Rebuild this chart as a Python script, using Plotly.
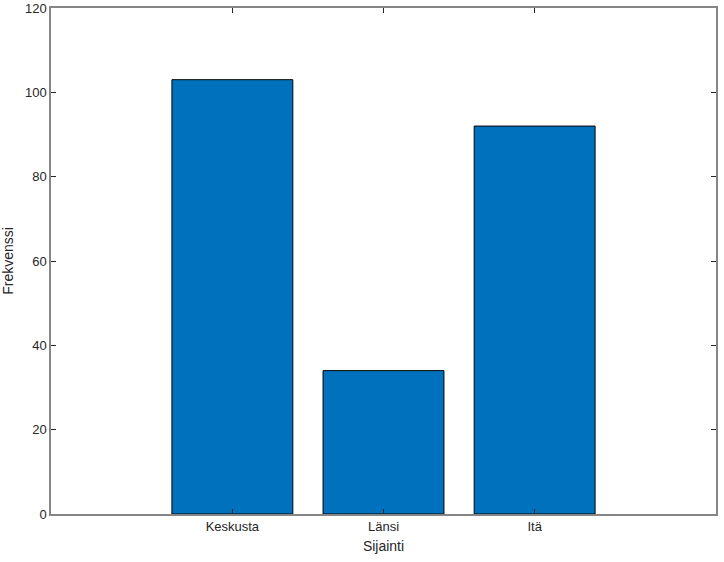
import plotly.graph_objects as go

categories = ["Keskusta", "Länsi", "Itä"]
positions = [1, 2, 3]
values = [103, 34, 92]
y_ticks = [0, 20, 40, 60, 80, 100, 120]

fig = go.Figure()
fig.add_trace(go.Bar(
    x=positions, y=values, width=0.8,
    marker=dict(color="#0072BD", line=dict(color="#000000", width=1)),
))

axis_common = dict(
    showline=True, linecolor="#868686", linewidth=1.5, mirror="ticks",
    ticks="inside", ticklen=5, tickcolor="#262626", tickwidth=1,
    showgrid=False, zeroline=False, automargin=False,
    tickfont=dict(family="Liberation Sans, Arial", size=13, color="#262626"),
)

fig.update_layout(
    width=724, height=562,
    margin=dict(l=51, r=8, t=8, b=48),
    paper_bgcolor="white", plot_bgcolor="white",
    showlegend=False,
    xaxis=dict(
        range=[-0.2, 4.2], tickvals=positions, ticktext=categories,
        title=dict(text="Sijainti", standoff=8,
                   font=dict(family="Liberation Sans, Arial", size=14, color="#262626")),
        **axis_common,
    ),
    yaxis=dict(
        range=[0, 120], tickvals=y_ticks,
        title=dict(text="Frekvenssi", standoff=8,
                   font=dict(family="Liberation Sans, Arial", size=14, color="#262626")),
        **axis_common,
    ),
)

fig.write_html("out.html", config={"displayModeBar": False},
               post_script="document.body.style.margin='0px';")
